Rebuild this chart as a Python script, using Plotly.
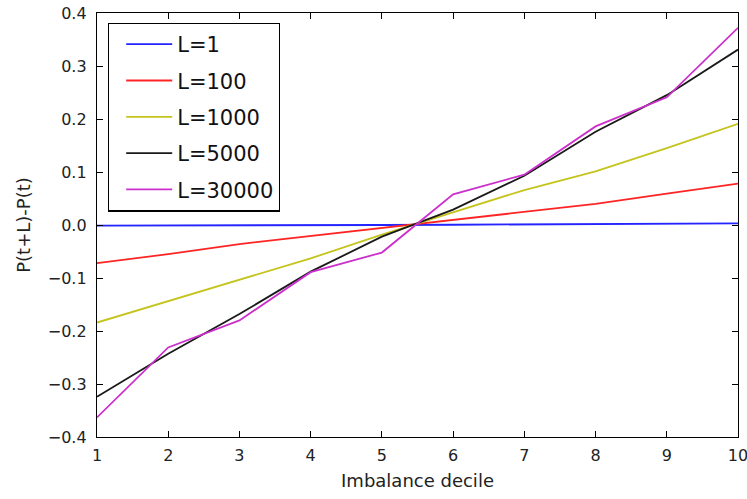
import plotly.graph_objects as go

# Imbalance deciles on the x axis
deciles = [1, 2, 3, 4, 5, 6, 7, 8, 9, 10]

# Mean price change P(t+L)-P(t) per decile, one series per horizon L
labels = ["L=1", "L=100", "L=1000", "L=5000", "L=30000"]
l1 = [-0.001, -0.001, -0.0005, 0.0, 0.0, 0.0005, 0.001, 0.0015, 0.002, 0.003]
l100 = [-0.072, -0.055, -0.036, -0.021, -0.006, 0.009, 0.024, 0.040, 0.059, 0.078]
l1000 = [-0.184, -0.144, -0.103, -0.063, -0.018, 0.024, 0.066, 0.101, 0.145, 0.191]
l5000 = [-0.324, -0.243, -0.168, -0.088, -0.022, 0.029, 0.093, 0.176, 0.245, 0.331]
l30000 = [-0.363, -0.231, -0.180, -0.089, -0.052, 0.058, 0.095, 0.186, 0.241, 0.372]

series = [l1, l100, l1000, l5000, l30000]
colors = ["#2424ff", "#ff2424", "#c4c41c", "#1a1a1a", "#cc30cc"]

FONT = "DejaVu Sans, Verdana, sans-serif"

fig = go.Figure()
for i, (name, vals, col) in enumerate(zip(labels, series, colors)):
    fig.add_trace(go.Scatter(
        x=deciles, y=vals, mode="lines", name=name,
        line=dict(color=col, width=1.8),
        legendgroup=f"g{i}",
    ))

axis_common = dict(
    showgrid=False, zeroline=False,
    showline=True, linecolor="black", linewidth=1.3,
    mirror="allticks", ticks="inside", ticklen=6, tickwidth=1,
    tickcolor="black",
    tickfont=dict(family=FONT, size=16, color="#222"),
    ticklabeloverflow="allow",
    automargin=False,
)

fig.update_layout(
    width=747, height=499,
    margin=dict(l=97, r=9, t=13, b=62, autoexpand=False),
    paper_bgcolor="white", plot_bgcolor="white",
    font=dict(family=FONT, color="#222"),
    xaxis=dict(
        range=[1, 10], dtick=1, tick0=1,
        title=dict(text="Imbalance decile", font=dict(family=FONT, size=18, color="#222"), standoff=10),
        ticklabelstandoff=4,
        **axis_common,
    ),
    yaxis=dict(
        range=[-0.4, 0.4], dtick=0.1, tick0=0, tickformat=".1f",
        title=dict(text="P(t+L)-P(t)", font=dict(family=FONT, size=18, color="#222"), standoff=12),
        ticklabelstandoff=6,
        **axis_common,
    ),
    legend=dict(
        x=0.017, y=0.977, xanchor="left", yanchor="top",
        bgcolor="white", bordercolor="black", borderwidth=1.3,
        font=dict(family=FONT, size=21, color="#111"),
        traceorder="grouped", tracegroupgap=6,
        indentation=12, itemwidth=46,
    ),
    showlegend=True,
)

fig.write_html("out.html")
